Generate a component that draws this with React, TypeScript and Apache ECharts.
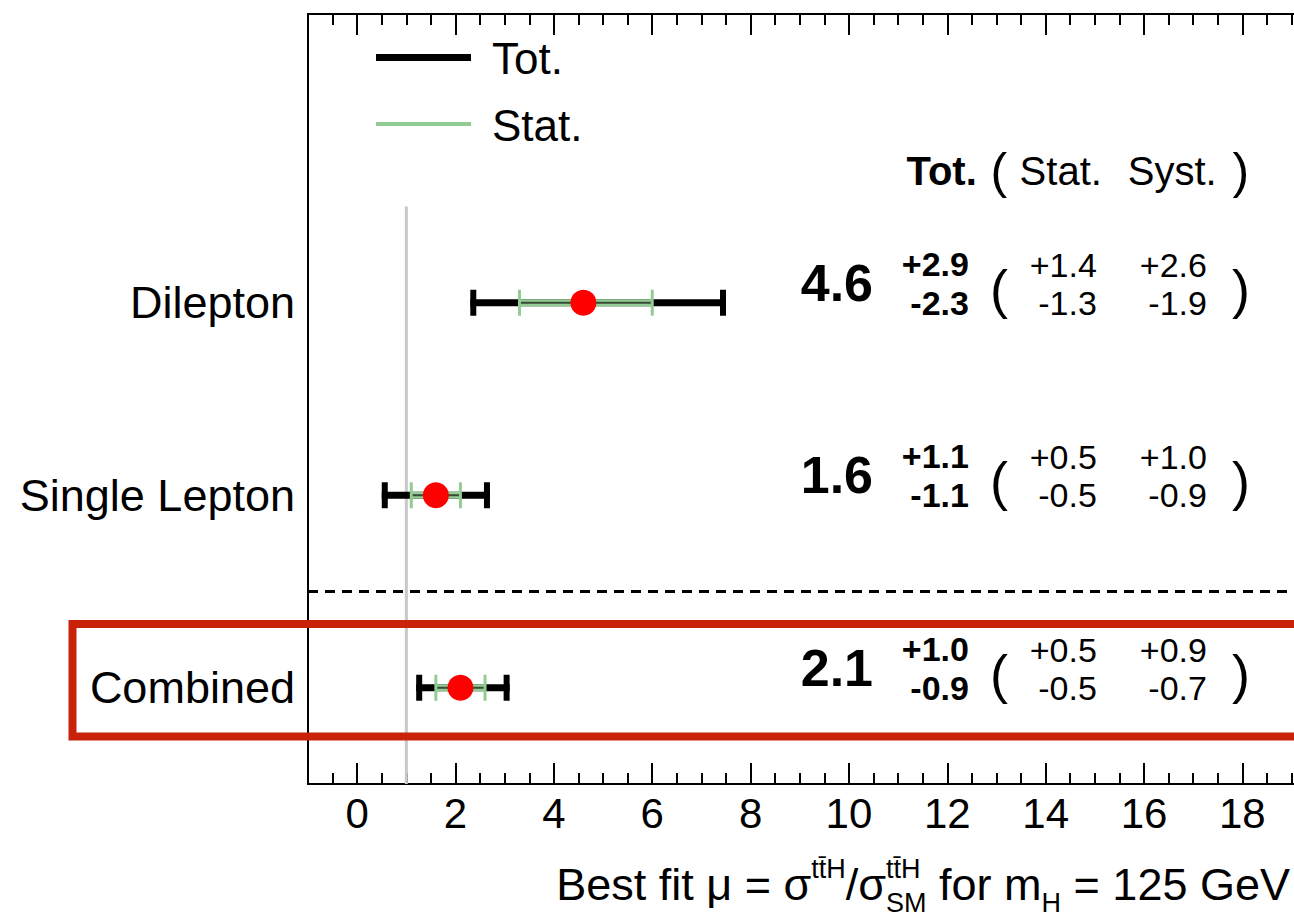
import React, { useEffect, useRef } from "react";
import * as echarts from "echarts";

// ---------------- data ----------------
const categories = ["Combined", "Single Lepton", "Dilepton"];
const rowPos = [1, 2, 3];
const central = [2.1, 1.6, 4.6];
const totUp = [1.0, 1.1, 2.9];
const totDown = [0.9, 1.1, 2.3];
const statUp = [0.5, 0.5, 1.4];
const statDown = [0.5, 0.5, 1.3];
const systUp = [0.9, 1.0, 2.6];
const systDown = [0.7, 0.9, 1.9];
const smValue = 1;
const separatorPos = 1.5;
const xMajorTicks = [0, 2, 4, 6, 8, 10, 12, 14, 16, 18];
const xMinorTicks = [
  -0.5, 0.5, 1, 1.5, 2.5, 3, 3.5, 4.5, 5, 5.5, 6.5, 7, 7.5, 8.5, 9, 9.5, 10.5, 11, 11.5,
  12.5, 13, 13.5, 14.5, 15, 15.5, 16.5, 17, 17.5, 18.5, 19,
];

// ---------------- layout constants ----------------
const FONT = '"Liberation Sans", Arial, Helvetica, sans-serif';
const X_MIN = -1;
const X_MAX = 19.05;
const Y_MIN = 0.5;
const Y_MAX = 4.5;
const colCentral = 10.49;
const colTot = 12.44;
const colParenL = 13.05;
const colStat = 15.04;
const colSyst = 17.28;
const colParenR = 17.97;
const headerRow = 3.685;

const fmt = (v: number, sign: string) => sign + v.toFixed(1);

export default function App() {
  const ref = useRef<HTMLDivElement>(null);

  useEffect(() => {
    if (!ref.current) return;
    const chart = echarts.init(ref.current, undefined, { renderer: "svg" });

    // annotation labels
    type Ann = { x: number; y: number; text: string; size: number; bold?: boolean; align: string; dy: number };
    const anns: Ann[] = [];
    anns.push({ x: 12.6, y: headerRow, text: "Tot.", size: 40, bold: true, align: "right", dy: 0 });
    anns.push({ x: colParenL, y: headerRow, text: "(", size: 50, align: "center", dy: 0 });
    anns.push({ x: 13.47, y: headerRow, text: "Stat.", size: 40, align: "left", dy: 0 });
    anns.push({ x: 15.67, y: headerRow, text: "Syst.", size: 40, align: "left", dy: 0 });
    anns.push({ x: colParenR, y: headerRow, text: ")", size: 50, align: "center", dy: 0 });
    for (let i = 0; i < categories.length; i++) {
      const r = rowPos[i];
      anns.push({ x: colCentral, y: r, text: central[i].toFixed(1), size: 52, bold: true, align: "right", dy: -20 });
      anns.push({ x: colTot, y: r, text: fmt(totUp[i], "+"), size: 34, bold: true, align: "right", dy: -39 });
      anns.push({ x: colTot, y: r, text: fmt(totDown[i], "-"), size: 34, bold: true, align: "right", dy: 0 });
      anns.push({ x: colParenL, y: r, text: "(", size: 54, align: "center", dy: -14 });
      anns.push({ x: colStat, y: r, text: fmt(statUp[i], "+"), size: 34, align: "right", dy: -38 });
      anns.push({ x: colStat, y: r, text: fmt(statDown[i], "-"), size: 34, align: "right", dy: 0 });
      anns.push({ x: colSyst, y: r, text: fmt(systUp[i], "+"), size: 34, align: "right", dy: -38 });
      anns.push({ x: colSyst, y: r, text: fmt(systDown[i], "-"), size: 34, align: "right", dy: 0 });
      anns.push({ x: colParenR, y: r, text: ")", size: 54, align: "center", dy: -14 });
    }

    // x-axis title (laid out with measured text widths, right aligned)
    const ctx = document.createElement("canvas").getContext("2d")!;
    const measure = (t: string, size: number) => {
      ctx.font = `${size}px ${FONT}`;
      return ctx.measureText(t).width;
    };
    const MAIN = 45;
    const SMALL = 27;
    const yMain = 884;
    const ySup = 869;
    const ySub = 903;
    type Seg = { parts: { text: string; size: number; y: number }[] };
    const segs: Seg[] = [
      { parts: [{ text: "Best fit μ = σ", size: MAIN, y: yMain }] },
      { parts: [{ text: "tt\u0304H", size: SMALL, y: ySup }] },
      { parts: [{ text: "/σ", size: MAIN, y: yMain }] },
      { parts: [{ text: "tt\u0304H", size: SMALL, y: ySup }, { text: "SM", size: SMALL, y: ySub }] },
      { parts: [{ text: " for m", size: MAIN, y: yMain }] },
      { parts: [{ text: "H", size: SMALL, y: ySub }] },
      { parts: [{ text: " = 125 GeV", size: MAIN, y: yMain }] },
    ];
    const widths = segs.map((s) => Math.max(...s.parts.map((p) => measure(p.text, p.size))));
    const total = widths.reduce((a, b) => a + b, 0);
    let cx = 1290 - total;
    const titleEls: any[] = [];
    segs.forEach((s, i) => {
      s.parts.forEach((p) => {
        titleEls.push({
          type: "text",
          x: cx,
          y: p.y,
          style: { text: p.text, font: `${p.size}px ${FONT}`, fill: "#000", align: "left", verticalAlign: "middle" },
        });
      });
      cx += widths[i];
    });

    const errData = categories.map((_, i) => [rowPos[i], central[i], totDown[i], totUp[i], statDown[i], statUp[i]]);

    const baseX = {
      type: "value",
      min: X_MIN,
      max: X_MAX,
      splitLine: { show: false },
    };

    const option: any = {
      animation: false,
      textStyle: { fontFamily: FONT },
      grid: { left: 308, right: 0, top: 14, bottom: 135, containLabel: false },
      xAxis: [
        {
          ...baseX,
          position: "bottom",
          axisLine: { show: true, onZero: false, lineStyle: { color: "#000", width: 2 } },
          axisTick: { show: true, inside: true, length: 21, customValues: xMajorTicks, lineStyle: { color: "#000", width: 2 } },
          axisLabel: { show: true, customValues: xMajorTicks, fontSize: 42, color: "#000", margin: 8, fontFamily: FONT },
        },
        {
          ...baseX,
          position: "bottom",
          axisLine: { show: false, onZero: false },
          axisTick: { show: true, inside: true, length: 11, customValues: xMinorTicks, lineStyle: { color: "#000", width: 2 } },
          axisLabel: { show: false },
        },
        {
          ...baseX,
          position: "top",
          axisLine: { show: true, onZero: false, lineStyle: { color: "#000", width: 2 } },
          axisTick: { show: true, inside: true, length: 21, customValues: xMajorTicks, lineStyle: { color: "#000", width: 2 } },
          axisLabel: { show: false },
        },
        {
          ...baseX,
          position: "top",
          axisLine: { show: false, onZero: false },
          axisTick: { show: true, inside: true, length: 11, customValues: xMinorTicks, lineStyle: { color: "#000", width: 2 } },
          axisLabel: { show: false },
        },
      ],
      yAxis: {
        type: "value",
        min: Y_MIN,
        max: Y_MAX,
        splitLine: { show: false },
        axisLine: { show: true, onZero: false, lineStyle: { color: "#000", width: 2 } },
        axisTick: { show: false },
        axisLabel: {
          show: true,
          customValues: rowPos,
          formatter: (v: number) => categories[rowPos.indexOf(v)] ?? "",
          fontSize: 45,
          color: "#000",
          margin: 13,
          fontFamily: FONT,
        },
      },
      series: [
        {
          type: "line",
          name: "SM",
          data: [
            [smValue, Y_MIN],
            [smValue, 3.5],
          ],
          symbol: "none",
          silent: true,
          lineStyle: { color: "#c8c8c8", width: 3 },
          z: 1,
        },
        {
          type: "line",
          name: "separator",
          data: [
            [X_MIN, separatorPos],
            [X_MAX, separatorPos],
          ],
          symbol: "none",
          silent: true,
          lineStyle: { color: "#000", width: 3, type: [10, 7] },
          z: 1,
        },
        {
          type: "custom",
          name: "errors",
          data: errData,
          encode: { x: 1, y: 0 },
          z: 5,
          renderItem: (params: any, api: any) => {
            const y = api.value(0);
            const c = api.value(1);
            const tD = api.value(2);
            const tU = api.value(3);
            const sD = api.value(4);
            const sU = api.value(5);
            const pc = api.coord([c, y]);
            const tl = api.coord([c - tD, y])[0];
            const th = api.coord([c + tU, y])[0];
            const sl = api.coord([c - sD, y])[0];
            const sh = api.coord([c + sU, y])[0];
            const py = pc[1];
            const cap = 13;
            const black = "#000";
            const green = "#93cc93";
            const ln = (x1: number, y1: number, x2: number, y2: number, stroke: string, w: number) => ({
              type: "line",
              shape: { x1, y1, x2, y2 },
              style: { stroke, lineWidth: w, lineCap: "butt" },
            });
            return {
              type: "group",
              children: [
                ln(tl, py, th, py, black, 7),
                ln(tl + 3, py - cap, tl + 3, py + cap, black, 6),
                ln(th - 3, py - cap, th - 3, py + cap, black, 6),
                ln(sl, py, sh, py, green, 7),
                ln(sl, py, sh, py, "#3a4a3a", 2),
                ln(sl, py - cap, sl, py + cap, green, 3),
                ln(sh, py - cap, sh, py + cap, green, 3),
                { type: "circle", shape: { cx: pc[0], cy: py, r: 13 }, style: { fill: "#ff0000" } },
              ],
            };
          },
        },
        {
          type: "scatter",
          name: "annotations",
          silent: true,
          symbolSize: 1,
          itemStyle: { color: "rgba(255,255,255,0)" },
          z: 6,
          data: anns.map((a) => ({
            value: [a.x, a.y],
            label: {
              show: true,
              position: [0.5, 0.5],
              formatter: a.text,
              fontSize: a.size,
              fontWeight: a.bold ? "bold" : "normal",
              fontFamily: FONT,
              color: "#000",
              opacity: 1,
              textBorderWidth: 0,
              align: a.align,
              verticalAlign: "middle",
              offset: [0, a.dy],
            },
          })),
        },
      ],
      graphic: [
        // legend
        { type: "line", shape: { x1: 376, y1: 57.5, x2: 471, y2: 57.5 }, style: { stroke: "#000", lineWidth: 7 } },
        {
          type: "text",
          x: 492,
          y: 58,
          style: { text: "Tot.", font: `44px ${FONT}`, fill: "#000", verticalAlign: "middle" },
        },
        { type: "line", shape: { x1: 376, y1: 124, x2: 471, y2: 124 }, style: { stroke: "#93cc93", lineWidth: 4 } },
        {
          type: "text",
          x: 492,
          y: 125,
          style: { text: "Stat.", font: `44px ${FONT}`, fill: "#000", verticalAlign: "middle" },
        },
        // highlight box around the combined result
        {
          type: "rect",
          shape: { x: 72.5, y: 624, width: 1300, height: 112.5 },
          style: { fill: "none", stroke: "#c8230a", lineWidth: 8 },
          z: 10,
        },
        ...titleEls,
      ],
    };

    chart.setOption(option);
    return () => chart.dispose();
  }, []);

  return (
    <div
      ref={ref}
      style={{ position: "absolute", left: 0, top: 0, width: 1294, height: 919, background: "#fff" }}
    />
  );
}
